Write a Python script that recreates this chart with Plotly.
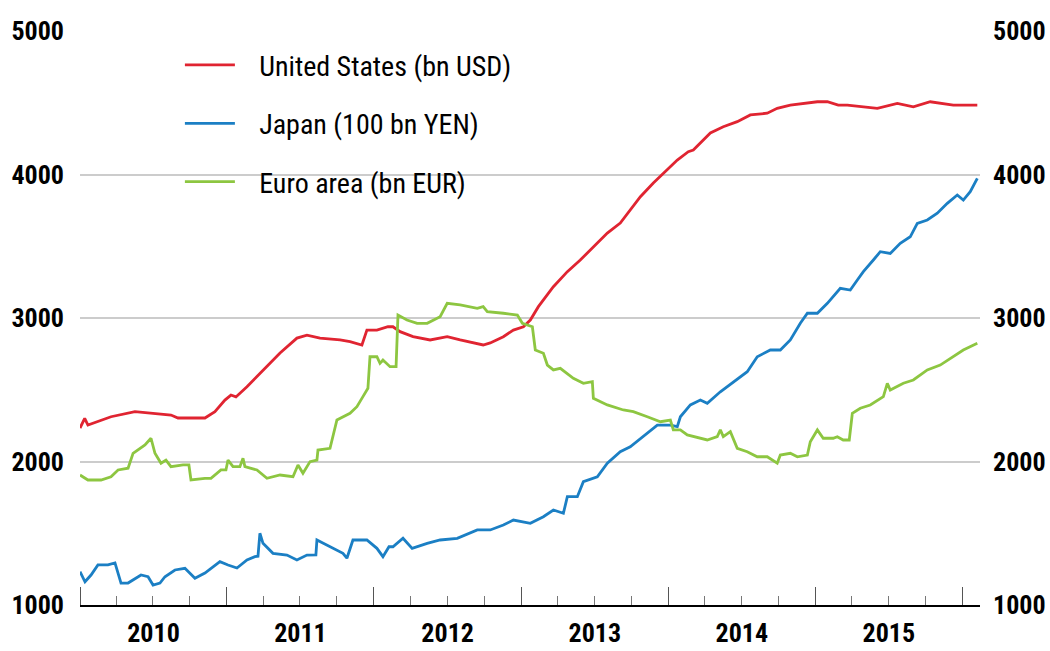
import pandas as pd
import plotly.graph_objects as go

# Time in decimal years
us_t = [2010.000, 2010.032, 2010.054, 2010.122, 2010.211, 2010.374, 2010.510, 2010.619, 2010.667,
        2010.782, 2010.850, 2010.918, 2010.986, 2011.027, 2011.061, 2011.136, 2011.245, 2011.361,
        2011.476, 2011.544, 2011.633, 2011.769, 2011.837, 2011.918, 2011.952, 2012.020, 2012.095,
        2012.129, 2012.177, 2012.265, 2012.381, 2012.497, 2012.585, 2012.673, 2012.741, 2012.789,
        2012.837, 2012.878, 2012.946, 2013.014, 2013.061, 2013.116, 2013.218, 2013.313, 2013.401,
        2013.490, 2013.585, 2013.673, 2013.741, 2013.810, 2013.898, 2013.966, 2014.061, 2014.136,
        2014.170, 2014.286, 2014.374, 2014.469, 2014.558, 2014.673, 2014.741, 2014.830, 2014.918,
        2015.014, 2015.082, 2015.156, 2015.218, 2015.327, 2015.422, 2015.558, 2015.667, 2015.782,
        2015.939, 2016.102]
us_v = [2233, 2301, 2254, 2277, 2312, 2347, 2336, 2324, 2303,
        2303, 2303, 2347, 2428, 2463, 2450, 2521, 2638, 2756,
        2860, 2881, 2860, 2847, 2835, 2812, 2916, 2916, 2939,
        2939, 2905, 2870, 2847, 2870, 2847, 2826, 2812, 2826,
        2847, 2870, 2916, 2939, 2986, 3079, 3218, 3323, 3404,
        3497, 3592, 3662, 3753, 3845, 3941, 4010, 4101, 4159,
        4171, 4289, 4333, 4368, 4415, 4427, 4461, 4484, 4496,
        4507, 4507, 4484, 4484, 4472, 4461, 4496, 4472, 4507,
        4484, 4484]

jp_t = [2010.000, 2010.034, 2010.075, 2010.122, 2010.190, 2010.238, 2010.279, 2010.327, 2010.415,
        2010.463, 2010.497, 2010.544, 2010.578, 2010.646, 2010.714, 2010.782, 2010.850, 2010.918,
        2010.952, 2011.007, 2011.068, 2011.136, 2011.190, 2011.211, 2011.224, 2011.245, 2011.313,
        2011.408, 2011.476, 2011.544, 2011.605, 2011.612, 2011.701, 2011.789, 2011.816, 2011.857,
        2011.952, 2012.020, 2012.061, 2012.102, 2012.129, 2012.197, 2012.259, 2012.361, 2012.449,
        2012.565, 2012.701, 2012.789, 2012.878, 2012.946, 2013.061, 2013.150, 2013.218, 2013.286,
        2013.313, 2013.381, 2013.422, 2013.517, 2013.585, 2013.673, 2013.741, 2013.830, 2013.925,
        2014.014, 2014.061, 2014.082, 2014.150, 2014.218, 2014.265, 2014.354, 2014.442, 2014.537,
        2014.605, 2014.694, 2014.762, 2014.830, 2014.898, 2014.946, 2015.014, 2015.082, 2015.170,
        2015.238, 2015.286, 2015.327, 2015.395, 2015.442, 2015.510, 2015.578, 2015.646, 2015.694,
        2015.762, 2015.830, 2015.898, 2015.966, 2016.007, 2016.054, 2016.102]
jp_v = [1232, 1162, 1209, 1279, 1279, 1293, 1153, 1153, 1209,
        1197, 1139, 1153, 1197, 1244, 1256, 1186, 1223, 1279,
        1302, 1279, 1258, 1314, 1337, 1340, 1500, 1430, 1360,
        1348, 1314, 1348, 1350, 1453, 1406, 1360, 1326, 1453,
        1453, 1395, 1337, 1406, 1406, 1465, 1395, 1430, 1453,
        1465, 1523, 1523, 1557, 1592, 1569, 1615, 1662, 1639,
        1755, 1755, 1859, 1894, 1988, 2068, 2103, 2173, 2254,
        2254, 2243, 2312, 2394, 2429, 2406, 2486, 2556, 2626,
        2730, 2777, 2777, 2847, 2963, 3033, 3033, 3102, 3207,
        3195, 3265, 3323, 3404, 3462, 3450, 3520, 3566, 3659,
        3683, 3730, 3799, 3857, 3822, 3880, 3973]

ea_t = [2010.000, 2010.054, 2010.143, 2010.211, 2010.259, 2010.327, 2010.361, 2010.442, 2010.483,
        2010.510, 2010.551, 2010.585, 2010.619, 2010.701, 2010.741, 2010.755, 2010.850, 2010.891,
        2010.959, 2010.993, 2011.007, 2011.041, 2011.088, 2011.109, 2011.122, 2011.204, 2011.272,
        2011.361, 2011.449, 2011.483, 2011.517, 2011.565, 2011.612, 2011.619, 2011.701, 2011.748,
        2011.837, 2011.884, 2011.925, 2011.959, 2011.973, 2012.020, 2012.041, 2012.061, 2012.109,
        2012.150, 2012.163, 2012.224, 2012.293, 2012.361, 2012.449, 2012.497, 2012.585, 2012.701,
        2012.741, 2012.769, 2012.878, 2012.973, 2013.007, 2013.075, 2013.095, 2013.150, 2013.177,
        2013.218, 2013.265, 2013.354, 2013.422, 2013.483, 2013.490, 2013.585, 2013.694, 2013.762,
        2013.857, 2013.946, 2014.014, 2014.034, 2014.082, 2014.129, 2014.265, 2014.333, 2014.354,
        2014.374, 2014.422, 2014.469, 2014.537, 2014.605, 2014.673, 2014.741, 2014.762, 2014.830,
        2014.878, 2014.946, 2014.966, 2015.014, 2015.054, 2015.122, 2015.150, 2015.190, 2015.231,
        2015.252, 2015.306, 2015.374, 2015.463, 2015.490, 2015.510, 2015.599, 2015.667, 2015.762,
        2015.850, 2015.939, 2016.007, 2016.102]
ea_v = [1906, 1871, 1871, 1894, 1941, 1953, 2057, 2115, 2162,
        2057, 1988, 2010, 1964, 1976, 1976, 1871, 1883, 1883,
        1941, 1941, 2010, 1964, 1964, 2022, 1964, 1941, 1883,
        1906, 1894, 1976, 1918, 1999, 2010, 2080, 2092, 2289,
        2336, 2382, 2452, 2510, 2730, 2730, 2684, 2707, 2661,
        2661, 3021, 2986, 2963, 2963, 3009, 3102, 3091, 3067,
        3079, 3044, 3033, 3021, 2963, 2939, 2777, 2754, 2672,
        2638, 2649, 2580, 2545, 2556, 2440, 2394, 2359, 2347,
        2312, 2277, 2289, 2220, 2220, 2185, 2150, 2173, 2220,
        2173, 2208, 2092, 2068, 2033, 2033, 1988, 2045, 2057,
        2033, 2045, 2138, 2220, 2162, 2162, 2173, 2150, 2150,
        2336, 2371, 2394, 2452, 2545, 2498, 2545, 2568, 2638,
        2672, 2730, 2777, 2824]

names = ["United States (bn USD)", "Japan (100 bn YEN)", "Euro area (bn EUR)"]
colors = ["#E02431", "#1B7FC4", "#8DC641"]
y_ticks = [1000, 2000, 3000, 4000, 5000]
x_start, x_end = "2010-01-01", "2016-02-14"


def to_dates(ts):
    out = []
    for t in ts:
        year = int(t)
        start = pd.Timestamp(year=year, month=1, day=1)
        nxt = pd.Timestamp(year=year + 1, month=1, day=1)
        out.append(start + (nxt - start) * (t - year))
    return out


FONT = "Roboto Condensed, Open Sans Condensed, Liberation Sans, sans-serif"
PAD = "\u00a0" * 3

fig = go.Figure()
series = [(us_t, us_v), (jp_t, jp_v), (ea_t, ea_v)]
for i, ((t, v), name, col) in enumerate(zip(series, names, colors)):
    fig.add_trace(go.Scatter(
        x=to_dates(t), y=v, mode="lines", name=PAD + name,
        line=dict(color=col, width=2.8), legendgroup=f"g{i}",
        yaxis="y2" if i == 2 else "y",
    ))

tick_font = dict(family=FONT, size=26, color="black", weight="bold")

fig.update_layout(
    width=1050, height=651,
    margin=dict(l=80, r=70, t=31, b=46, autoexpand=False),
    plot_bgcolor="white", paper_bgcolor="white",
    showlegend=True,
    legend=dict(x=0.111, y=0.984, xanchor="left", yanchor="top",
                font=dict(family=FONT, size=28, color="black"),
                bgcolor="rgba(0,0,0,0)", traceorder="grouped",
                tracegroupgap=19, itemwidth=50),
    xaxis=dict(
        type="date", range=[x_start, x_end], automargin=False,
        tick0="2010-01-01", dtick="M12", tickformat="%Y",
        ticklabelmode="period", ticks="inside", ticklen=18, tickwidth=1,
        tickcolor="#555555", showgrid=False, zeroline=False,
        showline=True, linecolor="black", linewidth=2,
        tickfont=tick_font, ticklabelstandoff=4,
        minor=dict(dtick="M3", ticks="inside", ticklen=9, tickwidth=1,
                   tickcolor="#777777", showgrid=False),
    ),
    yaxis=dict(
        range=[1000, 5000], tickvals=y_ticks, showgrid=True, automargin=False,
        gridcolor="#cccccc", gridwidth=1.5, zeroline=False, showline=False,
        ticks="", tickfont=tick_font, ticklabelstandoff=15,
    ),
    yaxis2=dict(
        range=[1000, 5000], tickvals=y_ticks, overlaying="y", side="right",
        showgrid=False, zeroline=False, showline=False, ticks="", automargin=False,
        tickfont=tick_font, ticklabelstandoff=12,
    ),
)

# remove the default page margin so the 1050x651 figure fills the window exactly
post = "document.body.style.margin='0';document.body.style.overflow='hidden';"
fig.write_html("out.html", post_script=post, config={"displayModeBar": False})
